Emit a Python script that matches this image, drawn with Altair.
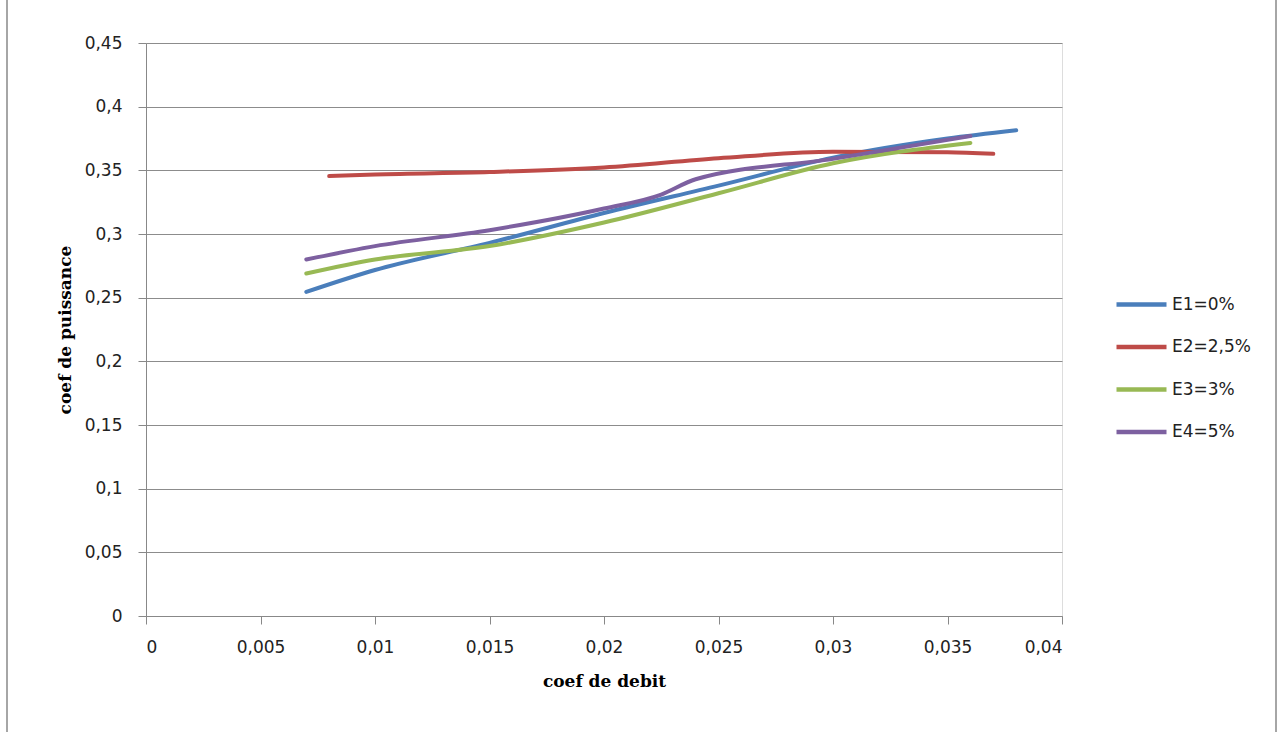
import altair as alt
import pandas as pd

# Flow coefficient vs power coefficient for four configurations
e1_x = [0.007, 0.010, 0.015, 0.020, 0.025, 0.030, 0.035, 0.038]
e1_y = [0.2545, 0.2717, 0.2930, 0.3165, 0.3380, 0.3600, 0.3750, 0.3815]

e2_x = [0.008, 0.010, 0.015, 0.020, 0.025, 0.030, 0.035, 0.037]
e2_y = [0.3455, 0.3468, 0.3487, 0.3522, 0.3595, 0.3645, 0.3643, 0.3630]

e3_x = [0.007, 0.010, 0.015, 0.020, 0.025, 0.030, 0.036]
e3_y = [0.2690, 0.2800, 0.2905, 0.3090, 0.3320, 0.3555, 0.3715]

e4_x = [0.007, 0.010, 0.015, 0.020, 0.0225, 0.024, 0.030, 0.036]
e4_y = [0.2800, 0.2905, 0.3030, 0.3200, 0.3310, 0.3430, 0.3590, 0.3770]

series = ["E1=0%", "E2=2,5%", "E3=3%", "E4=5%"]
colors = ["#4a7ebb", "#be4b48", "#98b954", "#7d60a0"]

x_ticks = [0, 0.005, 0.01, 0.015, 0.02, 0.025, 0.03, 0.035, 0.04]
y_ticks = [0, 0.05, 0.1, 0.15, 0.2, 0.25, 0.3, 0.35, 0.4, 0.45]

rows = []
for name, xs, ys in zip(series, [e1_x, e2_x, e3_x, e4_x], [e1_y, e2_y, e3_y, e4_y]):
    for i, (x, y) in enumerate(zip(xs, ys)):
        rows.append({"serie": name, "debit": x, "puissance": y, "ordre": i})
df = pd.DataFrame(rows)

comma = "replace(toString(datum.value), '.', ',')"
label_font = "DejaVu Sans"
title_font = "DejaVu Serif"

lines = alt.Chart(df).mark_line(strokeWidth=4, interpolate="monotone", strokeCap="round").encode(
    x=alt.X("debit:Q",
            scale=alt.Scale(domain=[0, 0.04], nice=False, zero=True),
            axis=alt.Axis(values=x_ticks, labelExpr=comma, grid=False,
                          title="coef de debit", titleFont=title_font, titleFontSize=17,
                          titleFontWeight="bold", titleColor="#000", titlePadding=18,
                          labelFont=label_font, labelFontSize=17, labelColor="#222",
                          labelPadding=15, tickSize=8, tickColor="#888", domainColor="#888")),
    y=alt.Y("puissance:Q",
            scale=alt.Scale(domain=[0, 0.45], nice=False),
            axis=alt.Axis(values=y_ticks, labelExpr=comma, grid=True, gridColor="#8c8c8c",
                          title="coef de puissance", titleFont=title_font, titleFontSize=17,
                          titleFontWeight="bold", titleColor="#000", titlePadding=10,
                          labelFont=label_font, labelFontSize=17, labelColor="#222",
                          labelPadding=16, tickSize=8, tickColor="#888", domainColor="#888")),
    color=alt.Color("serie:N",
                    scale=alt.Scale(domain=series, range=colors),
                    legend=alt.Legend(title=None, orient="none", legendX=968, legendY=234,
                                      symbolType="M-1,0H1", symbolStrokeWidth=4.5,
                                      symbolSize=2500, symbolFillColor="transparent",
                                      labelFont=label_font, labelFontSize=17, labelColor="#222",
                                      rowPadding=5.5, labelOffset=3)),
    order="ordre:Q",
)

# outer frame of the figure
frame = alt.Chart(pd.DataFrame({"x": [-139, 1130]})).mark_rule(color="#888", strokeWidth=1.5).encode(
    x=alt.X("x:Q", scale=None),
    y=alt.value(-50),
    y2=alt.value(700),
)

chart = alt.layer(frame, lines).properties(
    width=916, height=573,
    autosize=alt.AutoSizeParams(type="none"),
    padding={"left": 146, "top": 43, "right": 220, "bottom": 116},
).configure_view(stroke=None).configure(background="white")

chart.save("out.html", embed_options={"renderer": "svg", "actions": False})
